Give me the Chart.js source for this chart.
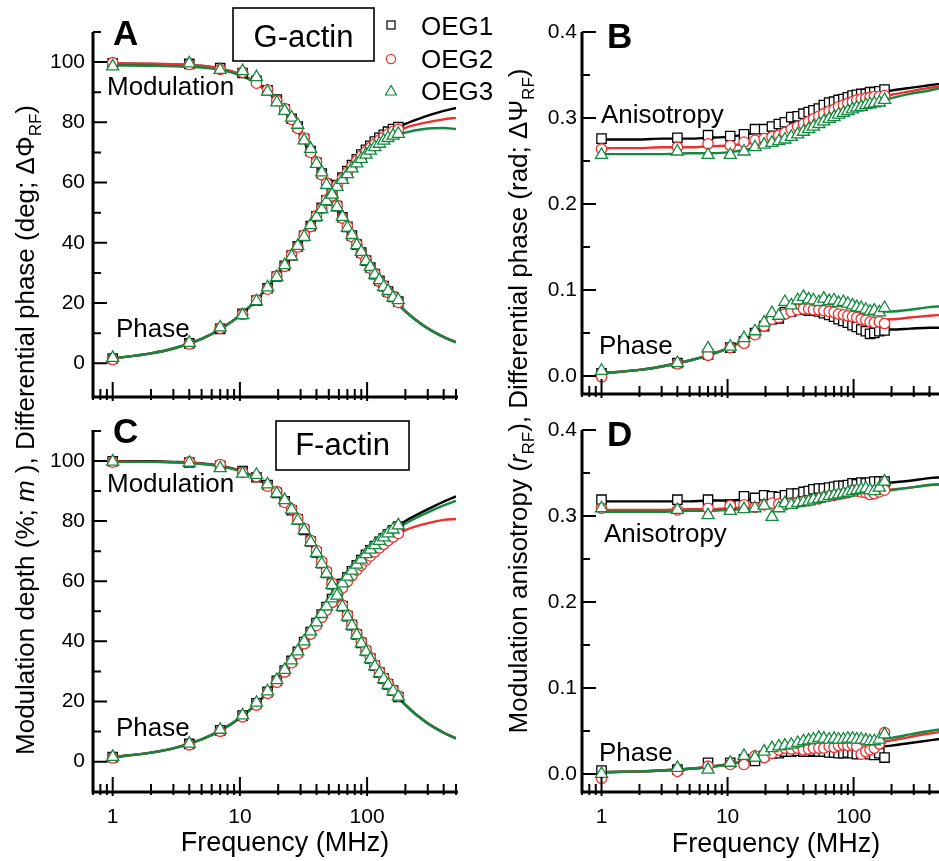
<!DOCTYPE html>
<html>
<head>
<meta charset="utf-8">
<script src="https://cdn.jsdelivr.net/npm/chart.js@4.4.1/dist/chart.umd.min.js"></script>
<style>
  html, body { margin: 0; padding: 0; background: #fff; }
  body { width: 939px; height: 861px; overflow: hidden; position: relative; }
  canvas { position: absolute; }
  #overlay { position: absolute; left: 0; top: 0; z-index: 5; pointer-events: none; }
  #overlay text { font-family: "Liberation Sans", Arial, sans-serif; fill: #000; }
</style>
</head>
<body>
<canvas id="cA" width="480" height="420" style="left:0;top:0"></canvas>
<canvas id="cB" width="470" height="420" style="left:480px;top:0"></canvas>
<canvas id="cC" width="480" height="461" style="left:0;top:400px"></canvas>
<canvas id="cD" width="470" height="461" style="left:480px;top:400px"></canvas>

<svg id="overlay" width="939" height="861">
  <!-- panel letters -->
  <text x="113" y="45" font-size="35" font-weight="bold">A</text>
  <text x="607" y="48" font-size="35" font-weight="bold">B</text>
  <text x="113" y="443" font-size="35" font-weight="bold">C</text>
  <text x="607" y="446" font-size="35" font-weight="bold">D</text>

  <!-- sample boxes -->
  <rect x="233" y="8" width="141" height="53" fill="#fff" stroke="#000" stroke-width="1.6"/>
  <text x="303.5" y="47" font-size="31" text-anchor="middle">G-actin</text>
  <rect x="276" y="421" width="133" height="49" fill="#fff" stroke="#000" stroke-width="1.6"/>
  <text x="342.5" y="455" font-size="31" text-anchor="middle">F-actin</text>

  <!-- legend -->
  <rect x="387" y="21" width="8" height="8" fill="#fff" stroke="#000" stroke-width="1.2"/>
  <circle cx="391" cy="59" r="4.6" fill="#fff" stroke="#ee3030" stroke-width="1.2"/>
  <polygon points="391,85.5 385.5,95 396.5,95" fill="#fff" stroke="#12893f" stroke-width="1.2"/>
  <text x="421" y="35" font-size="26">OEG1</text>
  <text x="421" y="68" font-size="26">OEG2</text>
  <text x="421" y="100" font-size="26">OEG3</text>

  <!-- curve labels -->
  <text x="107" y="95" font-size="26">Modulation</text>
  <text x="116" y="337" font-size="26">Phase</text>
  <text x="107" y="492" font-size="26">Modulation</text>
  <text x="116" y="736" font-size="26">Phase</text>
  <text x="601" y="123" font-size="26">Anisotropy</text>
  <text x="599" y="354" font-size="26">Phase</text>
  <text x="604" y="542" font-size="26">Anisotropy</text>
  <text x="599" y="761" font-size="26">Phase</text>

  <!-- axis titles -->
  <text x="285" y="851" font-size="27" text-anchor="middle">Frequency (MHz)</text>
  <text x="776" y="852" font-size="27" text-anchor="middle">Frequency (MHz)</text>
  <text transform="translate(34,430) rotate(-90)" font-size="26" text-anchor="middle">Modulation depth (%; <tspan font-style="italic">m</tspan> ), Differential phase (deg; ΔΦ<tspan font-size="17" dy="7">RF</tspan><tspan dy="-7">)</tspan></text>
  <text transform="translate(527,401) rotate(-90)" font-size="26" text-anchor="middle">Modulation anisotropy (<tspan font-style="italic">r</tspan><tspan font-size="17" dy="7">RF</tspan><tspan dy="-7">), Differential phase (rad; ΔΨ</tspan><tspan font-size="17" dy="7">RF</tspan><tspan dy="-7">)</tspan></text>
</svg>

<script>
// frequencies (MHz) of the measured points and of the fitted curves
const freq = [1, 4, 7, 10.5, 13.5, 16.5, 19.5, 22.5, 25.5, 28.5, 32, 36, 40, 44, 48, 53, 58, 64, 70, 76, 83, 90, 98, 106, 115, 125, 135, 146, 160, 176];
const fitFreq = [1, 2, 3, 5, 7, 10, 14, 20, 28, 40, 56, 80, 110, 150, 200, 280, 400, 500];

// tick values
const xMajor = [1, 10, 100];
const xMinor = [0.7, 0.8, 0.9, 2, 3, 4, 5, 6, 7, 8, 9, 20, 30, 40, 50, 60, 70, 80, 90, 200, 300, 400, 500];
const yMajorPct = [0, 20, 40, 60, 80, 100];
const yMinorPct = [10, 30, 50, 70, 90, 110];
const yMajorRad = [0, 0.1, 0.2, 0.3, 0.4];
const yMinorRad = [0.05, 0.15, 0.25, 0.35];

// A: G-actin modulation (%) and phase (deg)
const gMod1 = [99.6, 99.4, 98.0, 96.4, 93.8, 90.6, 87.6, 84.3, 81.2, 78.6, 74.5, 70.5, 66.6, 63.0, 59.6, 55.8, 52.2, 48.5, 45.3, 42.4, 39.4, 36.8, 34.1, 31.8, 29.6, 27.4, 25.6, 23.8, 22.0, 20.5];
const gMod2 = [99.8, 99.2, 97.6, 96.6, 93.0, 90.8, 87.2, 84.6, 81.0, 78.0, 74.8, 70.0, 66.9, 62.6, 59.8, 55.6, 52.4, 48.2, 45.5, 42.0, 39.6, 36.5, 34.3, 31.5, 29.8, 27.1, 25.8, 23.5, 22.2, 20.2];
const gMod3 = [98.6, 99.6, 97.4, 97.0, 95.0, 90.2, 86.6, 83.8, 81.6, 79.2, 74.0, 71.2, 66.2, 63.4, 59.2, 56.0, 51.8, 48.6, 45.0, 42.6, 39.2, 37.0, 33.9, 32.0, 29.4, 27.6, 25.4, 24.0, 21.8, 21.0];
const gPh1 = [1.6, 6.6, 11.4, 16.4, 20.8, 24.9, 28.8, 32.4, 35.8, 38.8, 42.3, 45.6, 48.8, 51.6, 54.1, 56.8, 59.2, 61.7, 63.8, 65.8, 67.7, 69.3, 70.9, 72.2, 73.6, 74.9, 75.9, 76.9, 77.8, 78.4];
const gPh2 = [1.2, 6.4, 11.6, 16.2, 21.0, 24.6, 29.0, 32.2, 36.0, 38.6, 42.6, 45.4, 49.0, 51.4, 54.3, 56.5, 59.0, 61.4, 63.4, 65.4, 67.2, 68.8, 70.3, 71.6, 72.9, 74.1, 75.1, 76.1, 77.0, 77.6];
const gPh3 = [1.8, 6.8, 11.9, 16.0, 20.6, 25.2, 28.6, 32.6, 35.5, 39.0, 42.0, 45.9, 48.6, 51.2, 53.8, 56.2, 58.6, 60.9, 62.8, 64.7, 66.4, 67.9, 69.3, 70.6, 71.8, 72.9, 73.9, 74.8, 75.6, 76.2];
const gModFit1 = [99.5, 99.4, 99.2, 98.7, 97.8, 95.9, 92.6, 86.6, 77.7, 65.8, 53.0, 40.1, 30.3, 22.8, 17.2, 12.4, 8.7, 7.0];
const gModFit2 = [99.6, 99.5, 99.3, 98.8, 97.9, 96.0, 92.7, 86.8, 77.9, 66.0, 53.2, 40.2, 30.4, 22.9, 17.3, 12.5, 8.8, 7.1];
const gModFit3 = [98.9, 98.8, 98.6, 98.2, 97.4, 95.6, 92.4, 86.6, 77.8, 65.9, 53.1, 40.2, 30.3, 22.8, 17.2, 12.4, 8.7, 7.0];
const gPhFit1 = [1.6, 3.3, 4.9, 8.1, 11.3, 15.9, 21.8, 29.8, 38.7, 48.8, 58.0, 66.4, 72.6, 76.8, 79.5, 81.8, 83.8, 84.8];
const gPhFit2 = [1.6, 3.3, 4.9, 8.1, 11.3, 15.9, 21.8, 29.8, 38.6, 48.6, 57.7, 66.0, 71.8, 75.8, 78.2, 79.8, 81.0, 81.5];
const gPhFit3 = [1.6, 3.3, 4.9, 8.1, 11.3, 15.9, 21.7, 29.6, 38.4, 48.3, 57.3, 65.4, 71.0, 74.6, 76.6, 77.8, 78.1, 77.8];

// B: G-actin modulation anisotropy and differential phase (rad)
const gAni1 = [0.276, 0.277, 0.280, 0.279, 0.281, 0.287, 0.287, 0.290, 0.293, 0.295, 0.301, 0.302, 0.305, 0.307, 0.309, 0.311, 0.315, 0.318, 0.319, 0.321, 0.322, 0.324, 0.326, 0.327, 0.328, 0.328, 0.330, 0.330, 0.331, 0.333];
const gAni2 = [0.264, 0.266, 0.270, 0.268, 0.272, 0.274, 0.276, 0.278, 0.280, 0.283, 0.287, 0.290, 0.293, 0.296, 0.299, 0.302, 0.305, 0.308, 0.310, 0.313, 0.315, 0.317, 0.319, 0.321, 0.322, 0.323, 0.324, 0.325, 0.325, 0.326];
const gAni3 = [0.257, 0.261, 0.257, 0.257, 0.261, 0.266, 0.269, 0.271, 0.273, 0.275, 0.278, 0.281, 0.284, 0.287, 0.290, 0.293, 0.296, 0.299, 0.301, 0.304, 0.306, 0.308, 0.310, 0.312, 0.313, 0.315, 0.316, 0.317, 0.318, 0.321];
const gDph1 = [0.003, 0.015, 0.025, 0.033, 0.040, 0.050, 0.058, 0.066, 0.067, 0.074, 0.075, 0.077, 0.077, 0.076, 0.076, 0.075, 0.073, 0.071, 0.069, 0.066, 0.064, 0.062, 0.059, 0.057, 0.054, 0.052, 0.049, 0.050, 0.052, 0.053];
const gDph2 = [-0.001, 0.014, 0.024, 0.033, 0.038, 0.048, 0.058, 0.066, 0.068, 0.072, 0.075, 0.077, 0.078, 0.078, 0.077, 0.077, 0.076, 0.075, 0.074, 0.072, 0.071, 0.070, 0.069, 0.068, 0.066, 0.065, 0.063, 0.062, 0.063, 0.061];
const gDph3 = [0.006, 0.015, 0.032, 0.034, 0.044, 0.052, 0.062, 0.073, 0.070, 0.086, 0.082, 0.088, 0.092, 0.089, 0.088, 0.086, 0.090, 0.087, 0.088, 0.085, 0.086, 0.084, 0.082, 0.080, 0.079, 0.077, 0.075, 0.076, 0.074, 0.079];
const gAniFit1 = [0.275, 0.275, 0.276, 0.276, 0.277, 0.278, 0.281, 0.286, 0.292, 0.300, 0.309, 0.318, 0.324, 0.329, 0.332, 0.335, 0.338, 0.340];
const gAniFit2 = [0.265, 0.265, 0.266, 0.266, 0.267, 0.268, 0.270, 0.275, 0.282, 0.291, 0.301, 0.311, 0.318, 0.323, 0.327, 0.331, 0.335, 0.337];
const gAniFit3 = [0.258, 0.258, 0.258, 0.259, 0.259, 0.260, 0.263, 0.268, 0.275, 0.284, 0.294, 0.304, 0.312, 0.318, 0.323, 0.328, 0.332, 0.335];
const gDphFit1 = [0.003, 0.007, 0.011, 0.018, 0.024, 0.032, 0.043, 0.058, 0.070, 0.076, 0.076, 0.069, 0.060, 0.054, 0.054, 0.055, 0.056, 0.056];
const gDphFit2 = [0.003, 0.007, 0.011, 0.018, 0.024, 0.032, 0.043, 0.058, 0.070, 0.077, 0.078, 0.075, 0.070, 0.066, 0.066, 0.068, 0.070, 0.071];
const gDphFit3 = [0.003, 0.007, 0.011, 0.018, 0.024, 0.032, 0.043, 0.058, 0.072, 0.080, 0.084, 0.083, 0.079, 0.075, 0.075, 0.077, 0.080, 0.081];

// C: F-actin modulation (%) and phase (deg)
const fMod1 = [99.9, 99.5, 98.4, 96.6, 94.6, 92.0, 89.4, 86.6, 83.6, 80.6, 77.1, 73.2, 69.6, 66.0, 62.8, 59.0, 55.5, 51.7, 48.4, 45.4, 42.3, 39.5, 36.8, 34.3, 31.9, 29.6, 27.6, 25.7, 23.6, 21.5];
const fMod2 = [99.6, 99.7, 98.8, 96.2, 94.8, 91.6, 89.8, 86.2, 84.0, 80.9, 77.6, 73.6, 70.2, 66.6, 63.4, 59.4, 56.0, 52.0, 48.8, 45.7, 42.6, 39.8, 37.2, 34.6, 32.2, 29.9, 27.9, 26.0, 23.8, 21.8];
const fMod3 = [99.8, 99.4, 97.6, 95.8, 95.4, 92.2, 89.2, 87.0, 83.8, 80.2, 77.0, 73.0, 69.4, 65.8, 62.5, 58.8, 55.2, 51.5, 48.2, 45.2, 42.1, 39.3, 36.6, 34.1, 31.7, 29.4, 27.4, 25.5, 23.4, 21.6];
const fPh1 = [1.5, 5.9, 10.4, 15.3, 19.4, 23.2, 26.9, 30.3, 33.5, 36.5, 39.8, 43.1, 46.1, 48.9, 51.4, 54.1, 56.5, 59.1, 61.3, 63.3, 65.3, 67.0, 68.8, 70.3, 71.7, 73.1, 74.3, 75.6, 76.9, 78.2];
const fPh2 = [1.2, 5.6, 10.1, 14.9, 18.8, 22.7, 26.4, 29.8, 32.9, 35.9, 39.2, 42.4, 45.3, 48.0, 50.4, 53.0, 55.3, 57.8, 59.9, 61.8, 63.7, 65.3, 67.0, 68.4, 69.8, 71.1, 72.3, 73.5, 74.7, 75.9];
const fPh3 = [1.6, 6.0, 10.6, 15.4, 19.6, 23.4, 27.1, 30.5, 33.7, 36.7, 40.0, 43.3, 46.3, 49.1, 51.6, 54.3, 56.7, 59.3, 61.5, 63.5, 65.5, 67.2, 69.0, 70.5, 72.0, 73.4, 74.6, 75.9, 77.2, 78.6];
const fModFit1 = [99.9, 99.9, 99.7, 99.2, 98.4, 96.8, 94.0, 88.8, 81.0, 69.5, 56.6, 43.4, 33.1, 25.0, 18.9, 13.6, 9.6, 7.7];
const fModFit2 = [99.8, 99.7, 99.6, 99.1, 98.3, 96.8, 94.0, 88.9, 81.2, 69.8, 56.9, 43.7, 33.3, 25.2, 19.0, 13.7, 9.7, 7.8];
const fModFit3 = [99.7, 99.7, 99.5, 99.0, 98.2, 96.6, 93.8, 88.7, 80.9, 69.4, 56.5, 43.4, 33.1, 25.0, 18.9, 13.6, 9.6, 7.7];
const fPhFit1 = [1.5, 3.0, 4.4, 7.4, 10.3, 14.5, 19.9, 27.4, 35.9, 46.0, 55.5, 64.2, 70.9, 76.3, 80.0, 83.3, 86.5, 88.2];
const fPhFit2 = [1.5, 3.0, 4.4, 7.4, 10.3, 14.5, 19.9, 27.3, 35.7, 45.6, 54.9, 63.4, 69.8, 74.0, 77.0, 79.0, 80.4, 80.7];
const fPhFit3 = [1.5, 3.0, 4.4, 7.4, 10.3, 14.5, 19.9, 27.4, 35.9, 45.9, 55.3, 63.9, 70.5, 75.6, 79.2, 82.3, 85.2, 86.7];

// D: F-actin modulation anisotropy and differential phase (rad)
const fAni1 = [0.319, 0.319, 0.319, 0.313, 0.323, 0.321, 0.324, 0.323, 0.322, 0.324, 0.326, 0.326, 0.328, 0.329, 0.331, 0.332, 0.332, 0.333, 0.334, 0.335, 0.335, 0.336, 0.338, 0.337, 0.339, 0.338, 0.339, 0.340, 0.340, 0.340];
const fAni2 = [0.309, 0.307, 0.309, 0.312, 0.313, 0.310, 0.313, 0.315, 0.314, 0.313, 0.315, 0.316, 0.317, 0.318, 0.319, 0.320, 0.322, 0.323, 0.324, 0.325, 0.326, 0.327, 0.330, 0.329, 0.328, 0.327, 0.325, 0.326, 0.328, 0.330];
const fAni3 = [0.309, 0.307, 0.301, 0.306, 0.308, 0.309, 0.312, 0.299, 0.309, 0.315, 0.313, 0.315, 0.316, 0.317, 0.319, 0.320, 0.321, 0.323, 0.324, 0.325, 0.326, 0.327, 0.329, 0.330, 0.331, 0.332, 0.330, 0.329, 0.333, 0.340];
const fDph1 = [0.004, 0.005, 0.013, 0.013, 0.017, 0.015, 0.021, 0.024, 0.024, 0.026, 0.026, 0.027, 0.026, 0.026, 0.027, 0.026, 0.026, 0.025, 0.025, 0.024, 0.024, 0.025, 0.024, 0.023, 0.024, 0.024, 0.023, 0.022, 0.024, 0.019];
const fDph2 = [-0.005, 0.003, 0.009, 0.011, 0.011, 0.021, 0.019, 0.024, 0.028, 0.030, 0.029, 0.030, 0.028, 0.029, 0.030, 0.030, 0.030, 0.032, 0.031, 0.033, 0.034, 0.033, 0.034, 0.032, 0.023, 0.026, 0.028, 0.030, 0.035, 0.048];
const fDph3 = [0.000, 0.007, 0.005, 0.013, 0.021, 0.019, 0.026, 0.030, 0.032, 0.033, 0.034, 0.036, 0.038, 0.039, 0.040, 0.042, 0.041, 0.040, 0.041, 0.040, 0.040, 0.041, 0.041, 0.040, 0.040, 0.039, 0.038, 0.038, 0.040, 0.046];
const fAniFit1 = [0.317, 0.317, 0.317, 0.317, 0.318, 0.318, 0.319, 0.321, 0.323, 0.326, 0.329, 0.332, 0.335, 0.337, 0.339, 0.341, 0.344, 0.345];
const fAniFit2 = [0.307, 0.307, 0.307, 0.308, 0.308, 0.309, 0.310, 0.311, 0.313, 0.317, 0.320, 0.324, 0.327, 0.329, 0.331, 0.333, 0.336, 0.337];
const fAniFit3 = [0.305, 0.305, 0.305, 0.306, 0.306, 0.307, 0.308, 0.310, 0.312, 0.316, 0.319, 0.323, 0.326, 0.328, 0.330, 0.333, 0.336, 0.337];
const fDphFit1 = [0.002, 0.003, 0.004, 0.006, 0.008, 0.011, 0.015, 0.019, 0.023, 0.026, 0.028, 0.029, 0.030, 0.031, 0.033, 0.036, 0.039, 0.041];
const fDphFit2 = [0.002, 0.003, 0.004, 0.006, 0.008, 0.011, 0.015, 0.020, 0.024, 0.028, 0.030, 0.032, 0.034, 0.036, 0.039, 0.043, 0.047, 0.049];
const fDphFit3 = [0.002, 0.003, 0.004, 0.006, 0.008, 0.011, 0.015, 0.022, 0.027, 0.031, 0.034, 0.036, 0.038, 0.040, 0.042, 0.046, 0.050, 0.052];

const FONT = '"Liberation Sans", Arial, sans-serif';
const colors = ['#000000', '#ee3030', '#12893f'];
const shapes = ['rect', 'circle', 'triangle'];
const radii = [6.6, 5.2, 7];

function pts(xs, ys) {
  return xs.map((x, i) => ({x: x, y: ys[i]}));
}

// ticks drawn inside the frame, plus the two axis lines
const innerTicks = {
  id: 'innerTicks',
  afterDatasetsDraw(chart, args, o) {
    const ctx = chart.ctx, a = chart.chartArea;
    const xs = chart.scales.x, ys = chart.scales.y;
    ctx.save();
    ctx.strokeStyle = '#000';
    ctx.lineWidth = 2;
    ctx.beginPath();
    o.yMajor.forEach(v => { const p = ys.getPixelForValue(v); ctx.moveTo(a.left, p); ctx.lineTo(a.left + 14, p); });
    o.yMinor.forEach(v => { const p = ys.getPixelForValue(v); ctx.moveTo(a.left, p); ctx.lineTo(a.left + 8, p); });
    xMajor.forEach(v => { const p = xs.getPixelForValue(v); ctx.moveTo(p, a.bottom + 4); ctx.lineTo(p, a.bottom - 15); });
    xMinor.forEach(v => { const p = xs.getPixelForValue(v); ctx.moveTo(p, a.bottom + 3); ctx.lineTo(p, a.bottom - 8); });
    ctx.stroke();
    ctx.lineWidth = 3;
    ctx.beginPath();
    ctx.moveTo(a.left, a.top);
    ctx.lineTo(a.left, a.bottom);
    ctx.lineTo(a.right + 2, a.bottom);
    ctx.stroke();
    ctx.restore();
  }
};

function makePanel(id, p) {
  const datasets = [];
  // measured points: OEG3 on top, then OEG2, then OEG1
  for (let s = 2; s >= 0; s--) {
    p.curves.forEach(c => {
      datasets.push({
        data: pts(freq, c.data[s]),
        showLine: false,
        pointStyle: shapes[s],
        pointRadius: radii[s],
        pointBorderWidth: 1.3,
        pointBorderColor: colors[s],
        pointBackgroundColor: '#ffffff',
        order: 2 - s
      });
    });
  }
  // fitted curves
  for (let s = 2; s >= 0; s--) {
    p.curves.forEach(c => {
      datasets.push({
        data: pts(fitFreq, c.fit[s]),
        showLine: true,
        borderColor: colors[s],
        borderWidth: 2.4,
        pointRadius: 0,
        cubicInterpolationMode: 'monotone',
        order: 10 - s
      });
    });
  }

  new Chart(document.getElementById(id), {
    type: 'scatter',
    data: {datasets: datasets},
    plugins: [innerTicks],
    options: {
      responsive: false,
      animation: false,
      events: [],
      layout: {padding: {top: p.padTop, right: p.padRight, left: 0, bottom: 0}},
      plugins: {
        legend: {display: false},
        tooltip: {enabled: false},
        innerTicks: {yMajor: p.yMajor, yMinor: p.yMinor}
      },
      scales: {
        x: {
          type: 'logarithmic',
          min: 0.7,
          max: 500,
          grid: {display: false, drawTicks: false},
          border: {display: false},
          afterBuildTicks: axis => { axis.ticks = xMajor.map(v => ({value: v})); },
          afterFit: axis => { axis.height = p.xHeight; },
          ticks: {
            display: p.xLabels,
            autoSkip: false,
            maxRotation: 0,
            padding: 13,
            color: '#000',
            font: {family: FONT, size: 21},
            callback: v => String(v)
          }
        },
        y: {
          type: 'linear',
          min: p.yMin,
          max: p.yMax,
          grid: {display: false, drawTicks: false},
          border: {display: false},
          afterBuildTicks: axis => { axis.ticks = p.yMajor.map(v => ({value: v})); },
          afterFit: axis => { axis.width = p.yWidth; },
          ticks: {
            padding: p.yPad,
            color: '#000',
            font: {family: FONT, size: 21},
            callback: v => p.yDigits ? v.toFixed(p.yDigits) : String(v)
          }
        }
      }
    }
  });
}

makePanel('cA', {
  curves: [
    {data: [gMod1, gMod2, gMod3], fit: [gModFit1, gModFit2, gModFit3]},
    {data: [gPh1, gPh2, gPh3], fit: [gPhFit1, gPhFit2, gPhFit3]}
  ],
  yMin: -11.2, yMax: 110, yMajor: yMajorPct, yMinor: yMinorPct, yDigits: 0,
  padTop: 32, padRight: 24, xHeight: 23, yWidth: 93, yPad: 8, xLabels: false
});
makePanel('cB', {
  curves: [
    {data: [gAni1, gAni2, gAni3], fit: [gAniFit1, gAniFit2, gAniFit3]},
    {data: [gDph1, gDph2, gDph3], fit: [gDphFit1, gDphFit2, gDphFit3]}
  ],
  yMin: -0.021, yMax: 0.4, yMajor: yMajorRad, yMinor: yMinorRad, yDigits: 1,
  padTop: 32, padRight: 5, xHeight: 26, yWidth: 102, yPad: 5, xLabels: false
});
makePanel('cC', {
  curves: [
    {data: [fMod1, fMod2, fMod3], fit: [fModFit1, fModFit2, fModFit3]},
    {data: [fPh1, fPh2, fPh3], fit: [fPhFit1, fPhFit2, fPhFit3]}
  ],
  yMin: -10.1, yMax: 110.3, yMajor: yMajorPct, yMinor: yMinorPct, yDigits: 0,
  padTop: 30, padRight: 24, xHeight: 69, yWidth: 93, yPad: 8, xLabels: true
});
makePanel('cD', {
  curves: [
    {data: [fAni1, fAni2, fAni3], fit: [fAniFit1, fAniFit2, fAniFit3]},
    {data: [fDph1, fDph2, fDph3], fit: [fDphFit1, fDphFit2, fDphFit3]}
  ],
  yMin: -0.021, yMax: 0.4, yMajor: yMajorRad, yMinor: yMinorRad, yDigits: 1,
  padTop: 30, padRight: 5, xHeight: 69, yWidth: 102, yPad: 5, xLabels: true
});
</script>
</body>
</html>
